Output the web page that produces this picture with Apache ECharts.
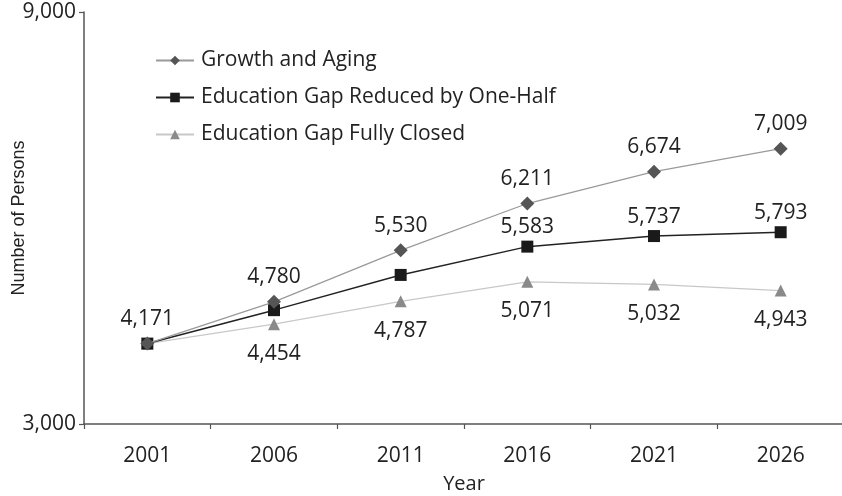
<!DOCTYPE html>
<html>
<head>
<meta charset="utf-8">
<script src="https://cdn.jsdelivr.net/npm/echarts@6/dist/echarts.min.js"></script>
<style>
html,body{margin:0;padding:0;background:#fff;}
#chart{width:842px;height:496px;}
</style>
</head>
<body>
<div id="chart"></div>
<script>
var years = ['2001', '2006', '2011', '2016', '2021', '2026'];
var growthAging = [4171, 4780, 5530, 6211, 6674, 7009];
var gapHalf = [4171, 4658, 5171, 5583, 5737, 5793];
var gapClosed = [4171, 4454, 4787, 5071, 5032, 4943];
var gapHalfLabelled = [false, false, false, true, true, true];
var gapClosedLabelled = [false, true, true, true, true, true];
var yTicks = [3000, 9000];

var FONT = '"Open Sans", "Noto Sans", sans-serif';
function fmt(v) { return v.toLocaleString('en-US'); }

var chart = echarts.init(document.getElementById('chart'), null, {renderer: 'canvas'});
var option = {
  backgroundColor: '#ffffff',
  animation: false,
  textStyle: {fontFamily: FONT, color: '#222'},
  grid: {left: 84, right: -2, top: 12, bottom: 72, containLabel: false, outerBoundsMode: 'none'},
  legend: {
    orient: 'vertical',
    left: 150,
    top: 45,
    itemWidth: 38,
    itemHeight: 12,
    itemGap: 16,
    textStyle: {fontFamily: FONT, fontSize: 21, color: '#222', padding: [0, 0, 0, 2]},
    data: ['Growth and Aging', 'Education Gap Reduced by One-Half', 'Education Gap Fully Closed']
  },
  xAxis: {
    type: 'category',
    data: years,
    boundaryGap: true,
    name: 'Year',
    nameLocation: 'middle',
    nameGap: 50,
    nameMoveOverlap: false,
    nameTextStyle: {fontFamily: FONT, fontSize: 20, color: '#222'},
    axisLine: {lineStyle: {color: '#555', width: 1.5}},
    axisTick: {show: true, length: 5, lineStyle: {color: '#555', width: 1.2}},
    axisLabel: {fontFamily: FONT, fontSize: 21, color: '#222', margin: 22}
  },
  yAxis: {
    type: 'value',
    min: yTicks[0],
    max: yTicks[1],
    interval: yTicks[1] - yTicks[0],
    name: 'Number of Persons',
    nameLocation: 'middle',
    nameGap: 56,
    nameMoveOverlap: false,
    nameRotate: 90,
    nameTextStyle: {fontFamily: '"Liberation Sans", Arial, sans-serif', fontSize: 18, color: '#222'},
    splitLine: {show: false},
    axisLine: {show: true, lineStyle: {color: '#555', width: 1.5}},
    axisTick: {show: true, length: 5, lineStyle: {color: '#555', width: 1.2}},
    axisLabel: {fontFamily: FONT, fontSize: 21, color: '#222', margin: 8, formatter: function (v) { return fmt(v); }}
  },
  series: [
    {
      name: 'Education Gap Fully Closed',
      type: 'line',
      data: gapClosed.map(function (v, i) {
        return {value: v, label: {show: gapClosedLabelled[i]}};
      }),
      symbol: 'triangle',
      symbolSize: 12,
      z: 2,
      lineStyle: {color: '#c8c8c8', width: 1.2},
      itemStyle: {color: '#8a8a8a'},
      label: {position: 'bottom', distance: 13, fontFamily: FONT, fontSize: 21, color: '#222',
        formatter: function (p) { return fmt(p.value); }}
    },
    {
      name: 'Education Gap Reduced by One-Half',
      type: 'line',
      data: gapHalf.map(function (v, i) {
        return {value: v, label: {show: gapHalfLabelled[i]}};
      }),
      symbol: 'rect',
      symbolSize: 12,
      z: 3,
      lineStyle: {color: '#222', width: 1.5},
      itemStyle: {color: '#1a1a1a'},
      label: {position: 'top', distance: 3, fontFamily: FONT, fontSize: 21, color: '#222',
        formatter: function (p) { return fmt(p.value); }}
    },
    {
      name: 'Growth and Aging',
      type: 'line',
      data: growthAging,
      symbol: 'diamond',
      symbolSize: 14,
      z: 4,
      lineStyle: {color: '#9a9a9a', width: 1.3},
      itemStyle: {color: '#555555'},
      label: {show: true, position: 'top', distance: 7, fontFamily: FONT, fontSize: 21, color: '#222',
        formatter: function (p) { return fmt(p.value); }}
    }
  ]
};
chart.setOption(option);
</script>
</body>
</html>
